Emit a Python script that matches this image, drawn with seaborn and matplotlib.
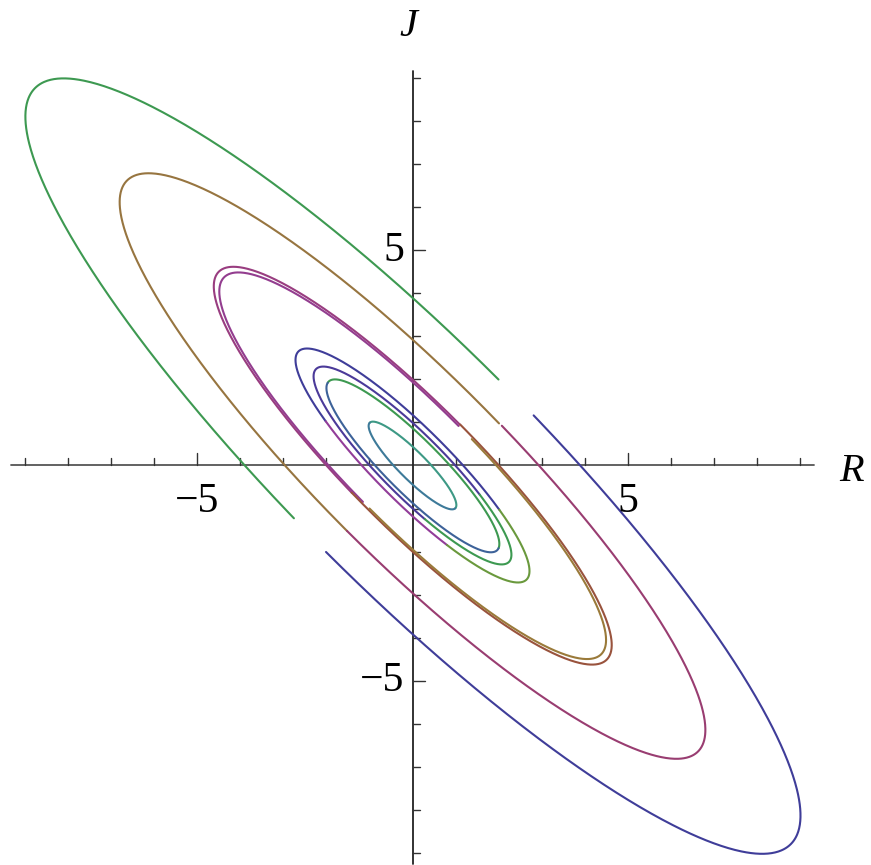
import numpy as np
import pandas as pd
import matplotlib
matplotlib.use("Agg")
import matplotlib.pyplot as plt
import seaborn as sns

# Trajectory arcs in the (R, J) phase plane: each arc runs along a tilted
# ellipse from angle theta0 to theta1 (degrees), with size s0 -> s1.
arc_theta0 = [90, 270, 85.5, 270, 89, 89, 265, 270, 55, 235, 300, 60, 290, 5, 183, 0, 180]
arc_theta1 = [265, 444.6, 270, 445, 265, 268, 449, 445, 235, 300, 415, 290, 420, 183, 365, 180, 360]
arc_s0 = [9.0, 9.05, 6.75, 6.85, 4.62, 4.48, 4.62, 4.50, 2.72, 2.72, 2.72, 2.30, 2.30, 2.02, 2.00, 1.02, 1.02]
arc_s1 = [9.0, 9.00, 6.85, 6.78, 4.62, 4.50, 4.64, 4.50, 2.72, 2.72, 2.72, 2.30, 2.30, 2.00, 2.02, 1.02, 1.02]
arc_color = ["#3d9951", "#3f3d99", "#977540", "#993d71", "#993d80", "#933d8f",
             "#99533d", "#9a7a3a", "#3f3d99", "#923d99", "#6a993d", "#4b3a99",
             "#3d9951", "#3d9951", "#3d6299", "#3d9985", "#3d7a99"]

x_ticks = list(range(-9, 10))
y_ticks = list(range(-9, 10))
x_labels = {-5: "\u22125", 5: "5"}
y_labels = {-5: "\u22125", 5: "5"}

# ellipse shape (per unit of horizontal extent), major axis along R = -J
A_MAJ, B_MIN = 1.378, 0.314

frames = []
for i, (t0, t1, s0, s1) in enumerate(zip(arc_theta0, arc_theta1, arc_s0, arc_s1)):
    t = np.linspace(t0, t1, 500)
    s = np.linspace(s0, s1, 500)
    th = np.radians(t)
    u = s * A_MAJ * np.cos(th)
    v = s * B_MIN * np.sin(th)
    frames.append(pd.DataFrame({"R": (u + v) / np.sqrt(2),
                                "J": (v - u) / np.sqrt(2),
                                "arc": f"a{i}", "order": np.arange(500)}))
df = pd.concat(frames, ignore_index=True)

sns.set_style("white")
plt.rcParams["font.family"] = ["Liberation Serif", "DejaVu Serif"]
plt.rcParams["text.color"] = "black"

W, H = 871, 865
fig = plt.figure(figsize=(W / 100, H / 100), dpi=100)
ax = fig.add_axes([0, 0, 1, 1])
ox, oy, k = 412.5, 465.5, 43.04
ax.set_xlim(-ox / k, (W - ox) / k)
ax.set_ylim(-(H - oy) / k, oy / k)
ax.set_axis_off()

palette = {f"a{i}": c for i, c in enumerate(arc_color)}
sns.lineplot(data=df, x="R", y="J", hue="arc", units="arc", palette=palette,
             sort=False, estimator=None, legend=False, linewidth=1.5, ax=ax)

# axes through the origin
ax.plot([-9.33, 9.33], [0, 0], color="#555555", lw=1.3, zorder=0)
ax.plot([0, 0], [-9.26, 9.16], color="#222222", lw=1.3, zorder=0)
for xv in x_ticks:
    if xv == 0:
        continue
    L = 12 / k if xv in x_labels else 7 / k
    ax.plot([xv, xv], [0, L], color="#333333", lw=1.0, zorder=0)
for yv in y_ticks:
    if yv == 0:
        continue
    L = 12 / k if yv in y_labels else 7 / k
    ax.plot([0, L], [yv, yv], color="#333333", lw=1.0, zorder=0)

for xv, lab in x_labels.items():
    ax.text(xv, -0.4, lab, ha="center", va="top", fontsize=30, color="black")
for yv, lab in y_labels.items():
    ax.text(-0.2, yv, lab, ha="right", va="center", fontsize=30, color="black")

ax.text(10.2, -0.15, "R", ha="center", va="center", fontsize=29,
        style="italic", color="black")
ax.text(-0.1, 10.2, "J", ha="center", va="center", fontsize=29,
        style="italic", color="black")

fig.savefig("out.png", dpi=100)
